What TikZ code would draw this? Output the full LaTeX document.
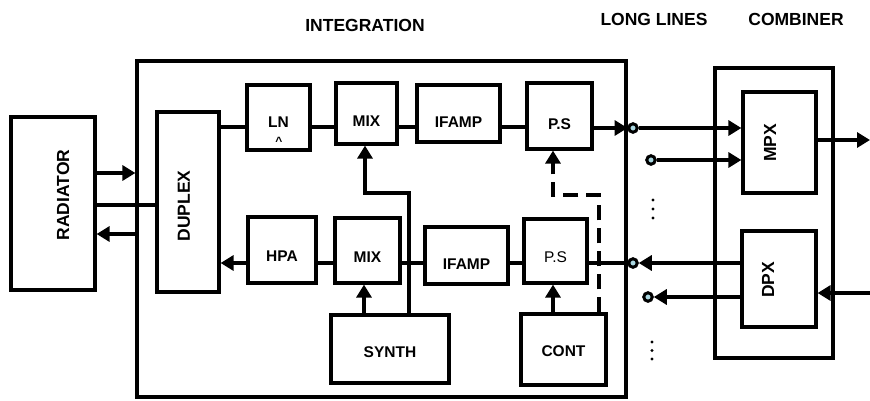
\documentclass[tikz,border=0pt]{standalone}
\usepackage{fontspec}
\setmainfont{Liberation Sans}
\usetikzlibrary{arrows.meta}
\definecolor{portfill}{RGB}{170,215,225}
\begin{document}
\begin{tikzpicture}[x=1pt,y=-1pt,line width=3.2pt,
  blk/.style={draw,line width=3.2pt,inner sep=0pt,font=\fontsize{15.5}{18}\selectfont\bfseries,text depth=0pt},
  frame/.style={draw,line width=3.2pt,inner sep=0pt},
  rlbl/.style={rotate=90,inner sep=0pt,font=\fontsize{17.5}{20}\selectfont\bfseries},
  ttl/.style={inner sep=0pt,font=\fontsize{17.5}{20}\selectfont\bfseries},
  arr/.style={-{Triangle[length=13pt,width=15pt]}},
  port/.style={circle,draw,line width=3pt,fill=portfill,minimum size=8.5pt,inner sep=0pt},
  dashln/.style={dash pattern=on 15pt off 8pt}]
\useasboundingbox (0,0) rectangle (870,400);

% titles
\node[ttl] (tint) at (365,25) {INTEGRATION};
\node[ttl] (tll) at (654,19) {LONG LINES};
\node[ttl] (tcomb) at (796,19) {COMBINER};

% outer frames
\node[frame,minimum width=489pt,minimum height=336pt] (integ) at (381.5,229) {};
\node[frame,minimum width=118pt,minimum height=290pt] (comb) at (774,213) {};

% left blocks
\node[frame,minimum width=84pt,minimum height=173pt] (rad) at (53,203.5) {};
\node[rlbl] (radt) at (63,195) {RADIATOR};
\node[frame,minimum width=62pt,minimum height=180pt] (dup) at (188,202) {};
\node[rlbl] (dupt) at (184,206) {DUPLEX};

% top row
\node[blk,minimum width=63pt,minimum height=65pt,text height=20.5pt] (ln) at (278.5,117.5) {LN};
\node[inner sep=0pt,anchor=north,font=\fontsize{12}{14}\selectfont\bfseries] (lnc) at (279,135.5) {\textasciicircum};
\node[blk,minimum width=61pt,minimum height=61pt,text height=25.5pt] (mixa) at (366.5,113.5) {MIX};
\node[blk,minimum width=83pt,minimum height=57pt,text height=28.5pt] (ifa) at (458.5,113.5) {IFAMP};
\node[blk,minimum width=65pt,minimum height=66pt,text height=26.5pt] (psa) at (559.5,116) {P.S};

% bottom row
\node[blk,minimum width=68pt,minimum height=66pt,text height=23.5pt] (hpa) at (282,250) {HPA};
\node[blk,minimum width=65pt,minimum height=65pt,text height=23.5pt] (mixb) at (367.5,250.5) {MIX};
\node[blk,minimum width=83pt,minimum height=57pt,text height=28.5pt] (ifb) at (466.5,255.5) {IFAMP};
\node[blk,minimum width=63pt,minimum height=64pt,text height=23.5pt,font=\fontsize{15.5}{18}\selectfont] (psb) at (555.5,251) {P.S};
\node[blk,minimum width=118pt,minimum height=68pt,text height=17pt] (synth) at (390,349) {SYNTH};
\node[blk,minimum width=85pt,minimum height=71pt,text height=14.5pt] (cont) at (563.5,349.5) {CONT};

% combiner blocks
\node[frame,minimum width=73pt,minimum height=101pt] (mpx) at (779.5,142.5) {};
\node[rlbl] (mpxt) at (770,143) {MPX};
\node[frame,minimum width=74pt,minimum height=96pt] (dpx) at (779,279) {};
\node[rlbl] (dpxt) at (768,280) {DPX};

% ports
\node[port] (pa) at (633,128) {};
\node[port] (pb) at (651,160) {};
\node[port] (pc) at (633,263) {};
\node[port] (pd) at (648,297) {};
\coordinate (outR) at (870,140);
\coordinate (inR) at (870,293);

% radiator connections
\draw[arr] (rad.east |- 0,173) -- (integ.west |- 0,173);
\draw (rad.east |- 0,205) -- (dup.west |- 0,205);
\draw[arr] (integ.west |- 0,234) -- (rad.east |- 0,234);

% top chain
\draw (dup.east |- 0,127) -- (ln.west |- 0,127);
\draw (ln.east |- 0,127) -- (mixa.west |- 0,127);
\draw (mixa.east |- 0,127) -- (ifa.west |- 0,127);
\draw (ifa.east |- 0,127) -- (psa.west |- 0,127);
\draw[arr] (psa.east |- pa) -- (integ.east |- pa);
\draw[arr] (pa) -- (mpx.west |- pa);
\draw[arr] (pb) -- (mpx.west |- pb);
\draw[arr] (mpx.east |- outR) -- (outR);

% bottom chain
\draw[arr] (hpa.west |- 0,263) -- (dup.east |- 0,263);
\draw (mixb.west |- 0,263) -- (hpa.east |- 0,263);
\draw (ifb.west |- 0,263) -- (mixb.east |- 0,263);
\draw (psb.west |- 0,263) -- (ifb.east |- 0,263);
\draw (psb.east |- pc) -- (pc);
\draw[arr] (dpx.west |- pc) -- (pc);
\draw[arr] (dpx.west |- pd) -- (pd);
\draw[arr] (inR) -- (dpx.east |- inR);

% synth / control
\draw[arr] (synth.north -| 364,0) -- (mixb.south -| 364,0);
\draw[arr] (synth.north -| 409,0) -- (409,193) -- (365,193) -- (mixa.south -| 365,0);
\draw[arr] (cont.north -| 553,0) -- (psb.south -| 553,0);
\draw[arr,dashln] (cont.north -| 599,0) -- (599,195) -- (553,195) -- (psa.south -| 553,0);

% ellipsis dots
\foreach \yy in {200,209,218} \fill (653,\yy) circle (1.7pt);
\foreach \yy in {342,350.5,359} \fill (652,\yy) circle (1.7pt);
\end{tikzpicture}
\end{document}
